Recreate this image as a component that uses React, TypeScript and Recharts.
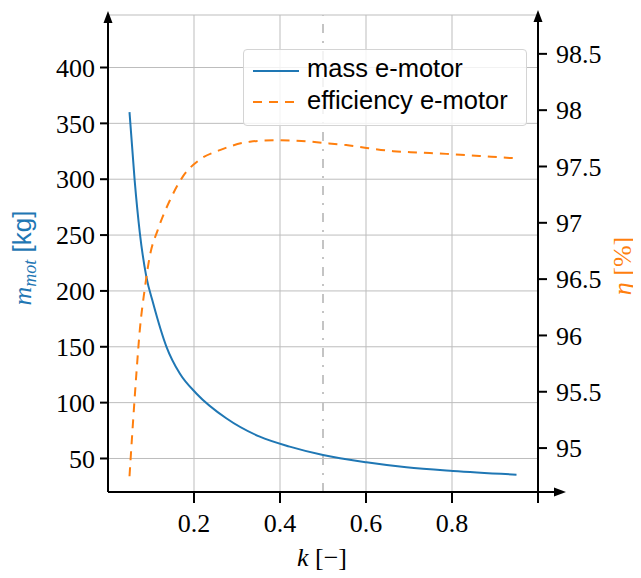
import { LineChart, Line, XAxis, YAxis, CartesianGrid, ReferenceLine, Customized } from 'recharts';

// mass of the e-motor over k
const kMass = [0.05, 0.062, 0.074, 0.089, 0.105, 0.136, 0.167, 0.206, 0.275, 0.353, 0.4225, 0.5, 0.601, 0.694, 0.802, 0.95];
const massKg = [360, 299, 252, 213, 189, 150, 126, 108, 86, 69.5, 60.6, 53.1, 46.6, 42.1, 38.8, 35.5];

// efficiency of the e-motor over k
const kEff = [0.05, 0.058, 0.066, 0.074, 0.085, 0.097, 0.116, 0.144, 0.174, 0.213, 0.26, 0.33, 0.39, 0.45, 0.5, 0.554, 0.601, 0.663, 0.725, 0.787, 0.864, 0.934, 0.95];
const effPct = [94.75, 95.22, 95.66, 96.05, 96.4, 96.7, 96.94, 97.2, 97.41, 97.56, 97.645, 97.72, 97.733, 97.727, 97.71, 97.69, 97.665, 97.636, 97.624, 97.612, 97.594, 97.576, 97.573];

const xTicks = [0.2, 0.4, 0.6, 0.8, 1];
const massTicks = [50, 100, 150, 200, 250, 300, 350, 400];
const effTicks = [95, 95.5, 96, 96.5, 97, 97.5, 98, 98.5];

const massData = kMass.map((k, i) => ({ k, m: massKg[i] }));
const effData = kEff.map((k, i) => ({ k, eta: effPct[i] }));

const W = 641;
const H = 578;
const MARGIN = { top: 15, right: 13, bottom: 26, left: 0 };
const LEFT_W = 108;
const RIGHT_W = 90;
const X_H = 60;
const PLOT_L = MARGIN.left + LEFT_W;
const PLOT_R = W - MARGIN.right - RIGHT_W;
const PLOT_T = MARGIN.top;
const PLOT_B = H - MARGIN.bottom - X_H;

const BLUE = '#1f77b4';
const ORANGE = '#ff7f0e';
const SERIF = '"Liberation Serif", "Times New Roman", serif';
const SANS = '"Liberation Sans", Arial, sans-serif';

const tickStyle = { fill: '#000', fontSize: 26, fontFamily: SERIF };
const axisStroke = { stroke: '#000', strokeWidth: 2 };

function Decorations() {
  return (
    <g>
      {/* axis arrows */}
      <polygon points={`${PLOT_L},${PLOT_T - 4} ${PLOT_L - 4.5},${PLOT_T + 8} ${PLOT_L + 4.5},${PLOT_T + 8}`} fill="#000" />
      <polygon points={`${PLOT_R},${PLOT_T - 5} ${PLOT_R - 4.5},${PLOT_T + 7} ${PLOT_R + 4.5},${PLOT_T + 7}`} fill="#000" />
      <line x1={PLOT_R} y1={PLOT_B} x2={PLOT_R + 18} y2={PLOT_B} stroke="#000" strokeWidth={2} />
      <polygon points={`${PLOT_R + 28},${PLOT_B} ${PLOT_R + 16},${PLOT_B - 4.5} ${PLOT_R + 16},${PLOT_B + 4.5}`} fill="#000" />

      {/* axis titles */}
      <text x={322} y={566} textAnchor="middle" fontSize={26} fontFamily={SERIF} fill="#000">
        <tspan fontStyle="italic">k</tspan>
        <tspan> [−]</tspan>
      </text>
      <text transform="translate(31,258) rotate(-90)" textAnchor="middle" fontSize={26} fill={BLUE}>
        <tspan fontFamily={SERIF} fontStyle="italic">m</tspan>
        <tspan fontFamily={SERIF} fontStyle="italic" fontSize={18} dy={5}>mot</tspan>
        <tspan fontFamily={SANS} dy={-5}> [kg]</tspan>
      </text>
      <text transform="translate(631,266) rotate(-90)" textAnchor="middle" fontSize={26} fontFamily={SERIF} fill={ORANGE}>
        <tspan fontStyle="italic">η</tspan>
        <tspan> [%]</tspan>
      </text>
    </g>
  );
}

function LegendBox() {
  const row = { display: 'flex', alignItems: 'center', height: 31.5 };
  return (
    <div
      style={{
        position: 'absolute',
        left: 243,
        top: 49,
        width: 284,
        height: 77,
        boxSizing: 'border-box',
        border: '1px solid #d4d4d4',
        borderRadius: 4,
        background: 'rgba(255,255,255,0.8)',
        fontFamily: SANS,
        fontSize: 25.5,
        color: '#000',
        paddingTop: 5,
      }}
    >
      <div style={row}>
        <svg width={46} height={4} style={{ marginLeft: 9 }}>
          <line x1={0} y1={2} x2={46} y2={2} stroke={BLUE} strokeWidth={2} />
        </svg>
        <span style={{ marginLeft: 8, position: 'relative', top: -2 }}>mass e-motor</span>
      </div>
      <div style={row}>
        <svg width={46} height={4} style={{ marginLeft: 9 }}>
          <line x1={0} y1={2} x2={46} y2={2} stroke={ORANGE} strokeWidth={2} strokeDasharray="9 7" />
        </svg>
        <span style={{ marginLeft: 8, position: 'relative', top: -2 }}>efficiency e-motor</span>
      </div>
    </div>
  );
}

export default function App() {
  return (
    <div style={{ position: 'relative', width: W, height: H, margin: -8, background: '#fff' }}>
      <LineChart width={W} height={H} margin={MARGIN}>
        <CartesianGrid yAxisId="left" stroke="#bdbdbd" strokeWidth={1} />
        <XAxis
          dataKey="k"
          type="number"
          domain={[0, 1]}
          ticks={xTicks}
          interval={0}
          height={X_H}
          tickSize={11}
          tickMargin={11}
          tickFormatter={(v: number) => (v === 1 ? '' : v.toFixed(1))}
          tick={tickStyle}
          axisLine={axisStroke}
          tickLine={axisStroke}
          allowDataOverflow
        />
        <YAxis
          yAxisId="left"
          width={LEFT_W}
          domain={[20, 447]}
          ticks={massTicks}
          interval={0}
          tickSize={8}
          tickMargin={5}
          tick={tickStyle}
          axisLine={axisStroke}
          tickLine={axisStroke}
          allowDataOverflow
        />
        <YAxis
          yAxisId="right"
          orientation="right"
          width={RIGHT_W}
          domain={[94.61, 98.845]}
          ticks={effTicks}
          interval={0}
          tickSize={9}
          tickMargin={9}
          tick={tickStyle}
          axisLine={axisStroke}
          tickLine={axisStroke}
          allowDataOverflow
        />
        <ReferenceLine x={0.5} yAxisId="left" stroke="#c4c4c4" strokeWidth={2} strokeDasharray="9 8 2 8" />
        <Line
          yAxisId="left"
          data={massData}
          dataKey="m"
          type="monotone"
          stroke={BLUE}
          strokeWidth={2}
          dot={false}
          isAnimationActive={false}
        />
        <Line
          yAxisId="right"
          data={effData}
          dataKey="eta"
          type="monotone"
          stroke={ORANGE}
          strokeWidth={2}
          strokeDasharray="9 7"
          dot={false}
          isAnimationActive={false}
        />
        <Customized component={<Decorations />} />
      </LineChart>
      <LegendBox />
    </div>
  );
}
